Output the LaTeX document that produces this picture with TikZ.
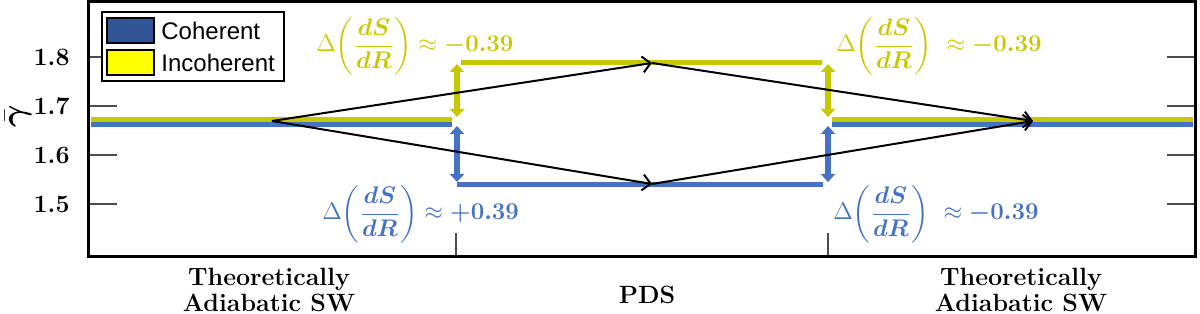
\documentclass[tikz,border=0pt]{standalone}
\usepackage{fontspec}
\usepackage{amsmath}
\usepackage{bm}
\usetikzlibrary{arrows.meta, positioning}
\newfontfamily\legendfont{Liberation Sans}
\definecolor{cohBlue}{HTML}{4472C4}
\definecolor{incYellow}{HTML}{C8C800}
\definecolor{legBlue}{HTML}{2F5597}
\definecolor{legYellow}{HTML}{FFFF00}
\newcommand{\slopejump}[2]{$\displaystyle\Delta\biggl(\frac{\bm{dS}}{\bm{dR}}\biggr)#1\approx \bm{#2}$}
\tikzset{
    >=Stealth,
    % Axes
    frame/.style={line width=1.5pt},
    tickmark/.style={gray!60!black, line width=0.6pt},
    ticklbl/.style={font=\fontsize{12.5}{14}\selectfont\bfseries, anchor=east, inner sep=0pt},
    phase/.style={font=\fontsize{12.5}{12}\selectfont\bfseries, align=center, inner sep=0pt},
    % Curves
    cohline/.style={cohBlue, line width=2.5pt},
    incline/.style={incYellow, line width=2.5pt},
    jump/.style={line width=3pt, {Triangle[length=4pt,width=7pt]}-{Triangle[length=4pt,width=7pt]}},
    trans/.style={black, line width=1pt, -{Straight Barb[length=4pt,width=8pt]}},
    deltalbl/.style={font=\fontsize{12.5}{15}\selectfont, inner sep=0pt, anchor=west},
    % Legend
    legpatch/.style={draw=black, line width=1pt, minimum width=23.5pt, minimum height=12.5pt, inner sep=0pt},
    legtext/.style={font=\legendfont\fontsize{12}{13}\selectfont, inner sep=0pt}
}

\begin{document}
\begin{tikzpicture}[x=0.5pt, y=-0.5pt]
\useasboundingbox (0,0) rectangle (1200,314);

% ticks
\foreach \v/\yy in {1.8/57, 1.7/106, 1.6/155, 1.5/204} {
    \draw[tickmark] (88,\yy) -- (117,\yy);
    \draw[tickmark] (1167,\yy) -- (1195,\yy);
    \node[ticklbl] (tick\yy) at (70,\yy) {\v};
}
\foreach \xx in {456, 828}
    \draw[tickmark] (\xx,233) -- (\xx,257);
\draw[frame] (88,1.5) rectangle (1195,257);

\node[rotate=90, font=\fontsize{16}{16}\selectfont, inner sep=0pt] (ylbl) at (18,116) {$\bar{\bm{\gamma}}$};

% levels
\draw[incline] (91,119.5) -- (452,119.5);
\draw[cohline] (91,124.5) -- (452,124.5);
\draw[incline] (461,62.5) -- (822,62.5);
\draw[cohline] (457,184.5) -- (823,184.5);
\draw[incline] (832,119.5) -- (1193,119.5);
\draw[cohline] (832,124.5) -- (1193,124.5);

% jumps at the boundaries
\foreach \xx in {457, 828} {
    \draw[jump, incYellow] (\xx,64) -- (\xx,117);
    \draw[jump, cohBlue] (\xx,126) -- (\xx,182);
}

% transitions
\coordinate (split) at (272,121);
\coordinate (pdstop) at (652,63);
\coordinate (pdsbot) at (652,184);
\coordinate (merge) at (1033,121);
\draw[trans] (split) -- (pdstop);
\draw[trans] (split) -- (pdsbot);
\draw[trans] (pdstop) -- (merge);
\draw[trans] (pdsbot) -- (merge);

% entropy slope labels
\node[deltalbl, text=incYellow] (dinl) at (316,46) {\slopejump{}{-0.39}};
\node[deltalbl, text=incYellow] (dinr) at (836,46) {\slopejump{\ }{-0.39}};
\node[deltalbl, text=cohBlue] (dcohl) at (322,214) {\slopejump{}{+0.39}};
\node[deltalbl, text=cohBlue] (dcohr) at (833,214) {\slopejump{\ }{-0.39}};

% legend
\draw[fill=white, line width=1pt] (102,12) rectangle (284,81);
\node[legpatch, fill=legBlue] (cohpatch) at (130.5,30.5) {};
\node[legpatch, fill=legYellow] (incpatch) at (130.5,63) {};
\node[legtext, right=3pt of cohpatch] (cohtxt) {Coherent};
\node[legtext, right=3pt of incpatch] (inctxt) {Incoherent};

% phases
\node[phase] (swleft) at (269,290) {Theoretically\\[1pt]Adiabatic SW};
\node[phase] (pds) at (647,295) {PDS};
\node[phase] (swright) at (1021,290) {Theoretically\\[1pt]Adiabatic SW};

\end{tikzpicture}
\end{document}
